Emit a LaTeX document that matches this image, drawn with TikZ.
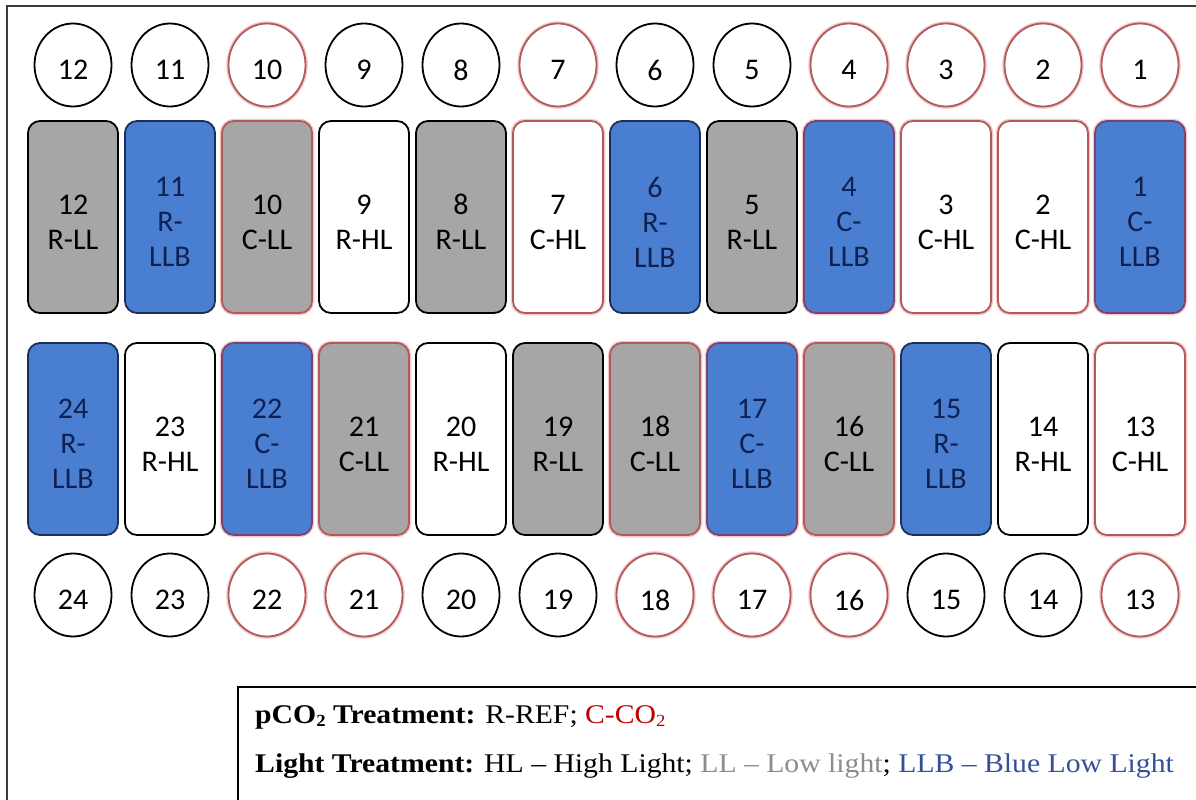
\documentclass[tikz,border=0pt]{standalone}
\usepackage{fontspec}
\usetikzlibrary{shapes.geometric}
\setmainfont{Liberation Serif}
\newfontfamily\boxfont{Carlito}

\definecolor{lowgray}{HTML}{A6A6A6}
\definecolor{lowblue}{HTML}{4A7ED0}
\definecolor{navytext}{HTML}{0F2152}
\definecolor{navyline}{HTML}{1C2F58}
\definecolor{co2line}{HTML}{B25A5A}
\definecolor{co2glow}{HTML}{F3CACA}
\definecolor{co2blue}{HTML}{7A4272}
\definecolor{legred}{HTML}{C00000}
\definecolor{leggray}{HTML}{8C8C8C}
\definecolor{legblue}{HTML}{34509A}
\definecolor{framegray}{HTML}{3A3A3A}

\tikzset{
  tank/.style={rounded corners=12pt, minimum width=90pt, minimum height=192pt,
    line width=1.8pt, inner sep=0pt},
  tanktext/.style={align=center, inner sep=0pt, yshift=-5pt,
    font=\boxfont\fontsize{30}{35}\selectfont},
  glow/.style={preaction={draw=co2glow, line width=4.5pt}},
  rLL/.style={tank, fill=lowgray, draw=black},
  rHL/.style={tank, fill=white, draw=black},
  rLLB/.style={tank, fill=lowblue, draw=navyline},
  cLL/.style={tank, glow, fill=lowgray, draw=co2line},
  cHL/.style={tank, glow, fill=white, draw=co2line},
  cLLB/.style={tank, glow, fill=lowblue, draw=co2blue},
  disc/.style={ellipse, minimum width=77pt, minimum height=83pt, inner sep=0pt,
    line width=1.8pt, fill=white},
  disctext/.style={inner sep=0pt, yshift=-5pt, font=\boxfont\fontsize{30}{32}\selectfont},
  rdisc/.style={disc, draw=black},
  cdisc/.style={disc, glow, draw=co2line},
  frameline/.style={draw=framegray, line width=1.6pt},
  legline/.style={draw=black, line width=1.5pt},
  legtext/.style={anchor=base west, inner sep=0pt, font=\fontsize{27}{30}\selectfont},
}

\newcommand{\subtwo}{\raisebox{-0.25ex}{\fontsize{17}{17}\selectfont 2}}
\newcommand{\legline}[1]{\scalebox{1.1}[1]{#1}}

\begin{document}
\begin{tikzpicture}[x=1pt, y=-1pt]
\useasboundingbox (0,0) rectangle (1196,800);
\fill[white] (0,0) rectangle (1196,800);

% outer frame (open to the right and bottom)
\draw[frameline] (7,812) -- (7,6) -- (1210,6);

% upper row: tank numbers and tanks, 12 down to 1
\foreach \n/\lab/\sty/\dsty/\tc [count=\k from 0] in {
  12/{12\\R-LL}/rLL/rdisc/black,
  11/{11\\R-\\LLB}/rLLB/rdisc/navytext,
  10/{10\\C-LL}/cLL/cdisc/black,
  9/{9\\R-HL}/rHL/rdisc/black,
  8/{8\\R-LL}/rLL/rdisc/black,
  7/{7\\C-HL}/cHL/cdisc/black,
  6/{6\\R-\\LLB}/rLLB/rdisc/navytext,
  5/{5\\R-LL}/rLL/rdisc/black,
  4/{4\\C-\\LLB}/cLLB/cdisc/navytext,
  3/{3\\C-HL}/cHL/cdisc/black,
  2/{2\\C-HL}/cHL/cdisc/black,
  1/{1\\C-\\LLB}/cLLB/cdisc/navytext}
{
  \node[\dsty] (ct\n) at ({73+97*\k},65) {};
  \node[disctext] (ctl\n) at (ct\n.center) {\n};
  \node[\sty] (t\n) at ({73+97*\k},217) {};
  \node[tanktext, text=\tc] (tl\n) at (t\n.center) {\lab};
}

% lower row: tanks and tank numbers, 24 down to 13
\foreach \n/\lab/\sty/\dsty/\tc [count=\k from 0] in {
  24/{24\\R-\\LLB}/rLLB/rdisc/navytext,
  23/{23\\R-HL}/rHL/rdisc/black,
  22/{22\\C-\\LLB}/cLLB/cdisc/navytext,
  21/{21\\C-LL}/cLL/cdisc/black,
  20/{20\\R-HL}/rHL/rdisc/black,
  19/{19\\R-LL}/rLL/rdisc/black,
  18/{18\\C-LL}/cLL/cdisc/black,
  17/{17\\C-\\LLB}/cLLB/cdisc/navytext,
  16/{16\\C-LL}/cLL/cdisc/black,
  15/{15\\R-\\LLB}/rLLB/rdisc/navytext,
  14/{14\\R-HL}/rHL/rdisc/black,
  13/{13\\C-HL}/cHL/cdisc/black}
{
  \node[\sty] (b\n) at ({73+97*\k},439) {};
  \node[tanktext, text=\tc] (bl\n) at (b\n.center) {\lab};
  \node[\dsty] (cb\n) at ({73+97*\k},595) {};
  \node[disctext] (cbl\n) at (cb\n.center) {\n};
}

% legend
\draw[legline] (1210,687) -- (238,687) -- (238,812);
\node[legtext] (legco2) at (255,723)
  {\legline{\textbf{pCO\subtwo{} Treatment:} R-REF; \textcolor{legred}{C-CO\subtwo}}};
\node[legtext] (leglight) at (255,772)
  {\legline{\textbf{Light Treatment:} HL – High Light; \textcolor{leggray}{LL – Low light}; \textcolor{legblue}{LLB – Blue Low Light}}};
\end{tikzpicture}
\end{document}
